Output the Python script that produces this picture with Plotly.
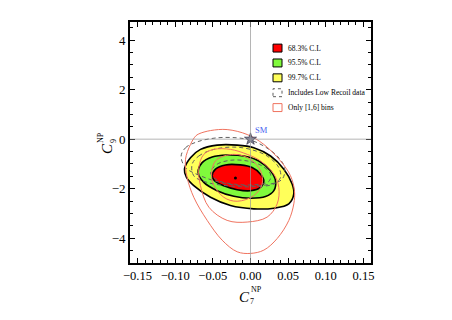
import plotly.graph_objects as go

# konturky odcitane z obrazka (x = C7, y = C9)
yel_x = [-0.0877, -0.0797, -0.0664, -0.0443, -0.0177, 0.0044, 0.0266, 0.0443, 0.0553, 0.0575,
         0.0509, 0.0310, 0.0044, -0.0266, -0.0531, -0.0753, -0.0850]
yel_y = [-1.213, -0.747, -0.413, -0.240, -0.240, -0.347, -0.680, -1.213, -1.813, -2.213,
         -2.613, -2.787, -2.813, -2.680, -2.347, -1.880, -1.547]

grn_x = [-0.0695, -0.0642, -0.0509, -0.0310, -0.0089, 0.0111, 0.0266, 0.0332, 0.0310, 0.0199,
         0.0, -0.0221, -0.0443, -0.0620]
grn_y = [-1.347, -0.947, -0.720, -0.640, -0.680, -0.880, -1.280, -1.680, -2.080, -2.320,
         -2.387, -2.307, -2.080, -1.747]

red_x = [-0.0509, -0.0465, -0.0332, -0.0133, 0.0022, 0.0133, 0.0177, 0.0133, 0.0, -0.0177,
         -0.0354, -0.0478]
red_y = [-1.480, -1.213, -1.040, -1.040, -1.147, -1.413, -1.680, -1.947, -2.080, -2.040,
         -1.880, -1.680]

# s Low Recoil datami (ciarkovane)
lr1_x = [-0.0531, -0.0443, -0.0266, -0.0044, 0.0155, 0.0266, 0.0243, 0.0044, -0.0221, -0.0443]
lr1_y = [-1.347, -1.013, -0.853, -0.880, -1.080, -1.413, -1.707, -1.840, -1.813, -1.653]
lr2_x = [-0.0775, -0.0686, -0.0487, -0.0221, 0.0, 0.0221, 0.0376, 0.0398, 0.0310, 0.0044,
         -0.0266, -0.0575, -0.0753]
lr2_y = [-1.013, -0.680, -0.413, -0.320, -0.413, -0.680, -1.147, -1.547, -1.813, -1.920,
         -1.893, -1.747, -1.480]
lr3_x = [-0.0921, -0.0863, -0.0708, -0.0443, -0.0177, 0.0, 0.0177, 0.0354, 0.0452, 0.0421,
         0.0221, -0.0089, -0.0398, -0.0664, -0.0863]
lr3_y = [-0.680, -0.347, -0.107, 0.053, 0.053, -0.040, -0.280, -0.680, -1.147, -1.613,
         -1.840, -1.880, -1.747, -1.480, -1.147]

# len [1,6] biny (oranzove)
b1_x = [-0.0221, -0.0465, -0.0509, -0.0354, -0.0177, 0.0044, 0.0155, 0.0133, 0.0]
b1_y = [-0.613, -0.880, -1.680, -2.347, -2.507, -2.280, -1.813, -1.280, -0.813]
b2_x = [-0.0620, -0.0686, -0.0664, -0.0553, -0.0310, -0.0044, 0.0221, 0.0354, 0.0376, 0.0310,
        0.0133, -0.0044, -0.0266, -0.0487]
b2_y = [-0.613, -1.147, -1.880, -2.747, -3.280, -3.347, -3.147, -2.613, -1.947, -1.413,
        -0.880, -0.613, -0.413, -0.413]
b3_x = [-0.0730, -0.0797, -0.0863, -0.0841, -0.0753, -0.0575, -0.0376, -0.0177, 0.0, 0.0177,
        0.0354, 0.0509, 0.0575, 0.0584, 0.0531, 0.0398, 0.0177, -0.0044, -0.0310, -0.0531,
        -0.0686]
b3_y = [0.120, -0.213, -0.813, -1.547, -2.347, -3.280, -4.080, -4.547, -4.613, -4.480,
        -4.013, -3.280, -2.613, -2.080, -1.480, -0.880, -0.213, 0.187, 0.387, 0.347, 0.213]

best_x, best_y = [-0.020], [-1.57]
sm_x, sm_y = [0.0], [0.0]

xticks = [-0.15, -0.10, -0.05, 0.0, 0.05, 0.10, 0.15]
yticks = [-4, -2, 0, 2, 4]

legend_labels = ['68.3% C.L', '95.5% C.L', '99.7% C.L', 'Includes Low Recoil data', 'Only [1,6] bins']

SERIF = 'Liberation Serif'
ORANGE = 'rgb(240,115,95)'
DASH = 'rgb(95,95,95)'

# plocha grafu v pixeloch (stranka ma okraj 8 px)
L, R, T, B = 130, 371, 20, 263
PAGE = 8


def closed(xs, ys):
    return list(xs) + [xs[0]], list(ys) + [ys[0]]


def px(x):
    return (x - L) / (R - L)


def py(y):
    return (B - y) / (B - T)


def label(x, y, text, size, angle=0):
    fig.add_annotation(xref='paper', yref='paper', x=px(x), y=py(y), text=text,
                       showarrow=False, xanchor='center', yanchor='middle', textangle=angle,
                       font=dict(family=SERIF, size=size, color='black'))


fig = go.Figure()

for xs, ys, col in [(yel_x, yel_y, 'rgb(255,255,90)'), (grn_x, grn_y, 'rgb(128,250,60)'),
                    (red_x, red_y, 'rgb(255,0,0)')]:
    cx, cy = closed(xs, ys)
    fig.add_trace(go.Scatter(x=cx, y=cy, mode='lines', fill='toself', fillcolor=col,
                             line=dict(color='black', width=1.6, shape='spline'),
                             hoverinfo='skip'))

for xs, ys in [(lr1_x, lr1_y), (lr2_x, lr2_y), (lr3_x, lr3_y)]:
    cx, cy = closed(xs, ys)
    fig.add_trace(go.Scatter(x=cx, y=cy, mode='lines',
                             line=dict(color=DASH, width=1, dash='4px,3px', shape='spline'),
                             hoverinfo='skip'))

for xs, ys in [(b1_x, b1_y), (b2_x, b2_y), (b3_x, b3_y)]:
    cx, cy = closed(xs, ys)
    fig.add_trace(go.Scatter(x=cx, y=cy, mode='lines',
                             line=dict(color=ORANGE, width=1, shape='spline'), hoverinfo='skip'))

fig.add_trace(go.Scatter(x=best_x, y=best_y, mode='markers',
                         marker=dict(color='black', size=3), hoverinfo='skip'))
fig.add_trace(go.Scatter(x=sm_x, y=sm_y, mode='markers',
                         marker=dict(symbol='star', size=9, color='rgb(130,130,150)',
                                     line=dict(color='rgb(60,60,80)', width=0.8)),
                         hoverinfo='skip'))
fig.add_annotation(x=sm_x[0], y=sm_y[0], text='SM', showarrow=False, xanchor='left',
                   yanchor='bottom', xshift=2, yshift=2,
                   font=dict(family=SERIF, size=8.5, color='rgb(70,100,240)'))

# osi nula, sive
fig.add_shape(type='line', xref='x', yref='paper', x0=0, x1=0, y0=0, y1=1,
              line=dict(color='rgba(150,150,150,0.7)', width=1), layer='above')
fig.add_shape(type='line', xref='paper', yref='y', x0=0, x1=1, y0=0, y1=0,
              line=dict(color='rgba(150,150,150,0.7)', width=1), layer='above')

# legenda vlastnymi tvarmi
sw_fill = ['rgb(255,0,0)', 'rgb(128,250,60)', 'rgb(255,255,90)', 'white', 'white']
sw_line = ['black', 'black', 'black', DASH, ORANGE]
sw_dash = ['solid', 'solid', 'solid', 'dot', 'solid']
for i, lab in enumerate(legend_labels):
    yc = 46.3 + 15 * i
    fig.add_shape(type='rect', xref='paper', yref='paper',
                  x0=px(273), x1=px(282), y0=py(yc + 4), y1=py(yc - 4),
                  fillcolor=sw_fill[i], line=dict(color=sw_line[i], width=1, dash=sw_dash[i]))
    fig.add_annotation(xref='paper', yref='paper', x=px(286), y=py(yc),
                       text=lab, showarrow=False, xanchor='left', yanchor='middle',
                       font=dict(family=SERIF, size=7.5, color='black'))

# popisy osi
label(244, 297, '<i>C</i>', 15)
label(256, 290, 'NP', 8)
label(251.5, 302, '7', 8)

label(107, 148, '<i>C</i>', 15, -90)
label(100, 137, 'NP', 8, -90)
label(113, 140, '9', 8, -90)

fig.update_xaxes(range=[-0.16, 0.16], tickvals=xticks,
                 ticktext=[f'{v:.2f}'.replace('-', '\u2212') for v in xticks],
                 ticks='inside', ticklen=5, tickwidth=1.2, tickcolor='black',
                 minor=dict(dtick=0.01, ticks='inside', ticklen=3, tickcolor='black'),
                 showline=True, linecolor='black', linewidth=1.6, mirror='allticks',
                 showgrid=False, zeroline=False,
                 tickfont=dict(family=SERIF, size=12.5, color='black'))
fig.update_yaxes(range=[-5, 4.73], tickvals=yticks,
                 ticktext=[str(v).replace('-', '\u2212') for v in yticks],
                 ticks='inside', ticklen=5, tickwidth=1.2, tickcolor='black',
                 minor=dict(dtick=0.5, ticks='inside', ticklen=3, tickcolor='black'),
                 showline=True, linecolor='black', linewidth=1.6, mirror='allticks',
                 showgrid=False, zeroline=False,
                 tickfont=dict(family=SERIF, size=13, color='black'))

fig.update_layout(width=452, height=320,
                  margin=dict(l=L - PAGE, r=452 - R + PAGE, t=T - PAGE, b=320 - B + PAGE),
                  paper_bgcolor='white', plot_bgcolor='white', showlegend=False)

fig.write_html('out.html')
